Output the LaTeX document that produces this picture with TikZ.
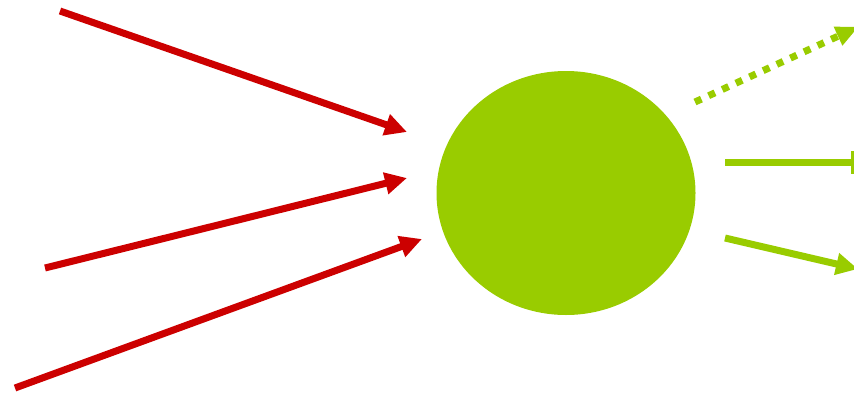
\documentclass[tikz,border=0pt]{standalone}
\usetikzlibrary{arrows.meta,shapes.geometric,calc}
\definecolor{myred}{HTML}{CC0000}
\definecolor{mygreen}{HTML}{99CC00}
\tikzset{
  redarrow/.style={draw=myred, line width=7pt, -{Triangle[length=22pt,width=21pt]}, fill=myred},
  greenline/.style={draw=mygreen, line width=7pt},
  greenarrow/.style={greenline, -{Triangle[length=22pt,width=21pt]}},
}
\begin{document}
\begin{tikzpicture}[x=1pt,y=-1pt]
\useasboundingbox (0,0) rectangle (854,394);
\clip (0,0) rectangle (854,394);
\node[ellipse, fill=mygreen, minimum width=259pt, minimum height=244pt, inner sep=0pt] (cell) at (566,193) {};
\coordinate (r1s) at (60,11);
\coordinate (r1e) at (407,132);
\coordinate (r2s) at (45,268);
\coordinate (r2e) at (407,178);
\coordinate (r3s) at (15,388);
\coordinate (r3e) at (422,239);
\draw[redarrow] (r1s) -- (r1e);
\draw[redarrow] (r2s) -- (r2e);
\draw[redarrow] (r3s) -- (r3e);
\coordinate (g1s) at (695,102);
\coordinate (g1e) at (858,27);
\coordinate (g2s) at (725,162);
\coordinate (g2e) at (855,162);
\coordinate (g3s) at (725,238);
\coordinate (g3e) at (858,269);
\draw[greenline, dash pattern=on 7pt off 8pt, shorten >=18pt] (g1s) -- (g1e);
\fill[mygreen] (g1e) -- ($(g1e)!22pt!(g1s)!10.5pt!90:(g1s)$) -- ($(g1e)!22pt!(g1s)!10.5pt!-90:(g1s)$) -- cycle;
\draw[greenline, -{Bar[width=23pt,line width=4pt]}] (g2s) -- (g2e);
\draw[greenarrow] (g3s) -- (g3e);
\end{tikzpicture}
\end{document}
